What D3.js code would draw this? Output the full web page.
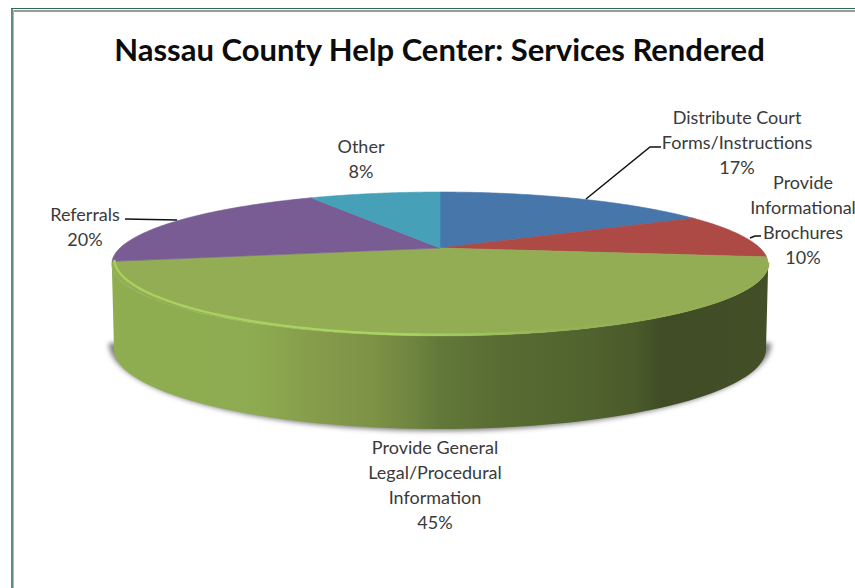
<!DOCTYPE html>
<html><head><meta charset="utf-8">
<script src="https://cdn.jsdelivr.net/npm/d3@7"></script>
<style>html,body{margin:0;padding:0;background:#fff;overflow:hidden}svg{display:block}text{font-family:Lato,"Open Sans",sans-serif}</style>
</head><body>
<script>
const categories = ["Distribute Court Forms/Instructions","Provide Informational Brochures","Provide General Legal/Procedural Information","Referrals","Other"];
const values = [17,10,45,20,8];
const colors = ["#4776ab","#ad4a46","#93ad54","#785c93","#46a0b8"];
const labelLines = [["Distribute Court","Forms/Instructions","17%"],["Provide","Informational","Brochures","10%"],["Provide General","Legal/Procedural","Information","45%"],["Referrals","20%"],["Other","8%"]];
const labelAnchors = [[737,118],[803,183],[435,448],[85,215],[361,147]];
const leaders = [[[586,199],[650,147],[661,147]],[[750,238],[755,236],[761,236]],null,[[125,219],[177,220]],null];
const W=855,H=588;
const svg=d3.select("body").append("svg").attr("width",W).attr("height",H);
const defs=svg.append("defs");
defs.append("filter").attr("id","sh").attr("x","-5%").attr("y","-10%").attr("width","110%").attr("height","120%").append("feGaussianBlur").attr("stdDeviation",2.5);
defs.append("filter").attr("id","soft").attr("x","-5%").attr("y","-10%").attr("width","110%").attr("height","120%").append("feGaussianBlur").attr("stdDeviation",0.6);
const wallStops=[[0,"#8fae50"],[0.22,"#8dab50"],[0.33,"#84994a"],[0.4,"#7d9245"],[0.46,"#6e843f"],[0.5,"#62783a"],[0.6,"#586b32"],[0.7,"#52652f"],[0.8,"#4a5a2b"],[0.84,"#3f4c25"],[1,"#434f27"]];
const wg=defs.append("linearGradient").attr("id","wall");
wg.selectAll("stop").data(wallStops).join("stop").attr("offset",d=>d[0]).attr("stop-color",d=>d[1]);
const rg=defs.append("linearGradient").attr("id","rim");
[[0,"#a8d05c"],[0.45,"#a8d562"],[0.68,"#93b254"],[1,"#93ad54"]].forEach(s=>rg.append("stop").attr("offset",s[0]).attr("stop-color",s[1]));

// border
svg.append("line").attr("x1",11).attr("x2",W).attr("y1",8.5).attr("y2",8.5).attr("stroke","#2f6b4f").attr("stroke-width",1);
svg.append("line").attr("x1",13).attr("x2",W).attr("y1",11).attr("y2",11).attr("stroke","#9a9a9a").attr("stroke-width",2);
svg.append("line").attr("x1",12).attr("x2",12).attr("y1",8).attr("y2",H).attr("stroke","#3f7058").attr("stroke-width",1.6);
svg.append("line").attr("x1",13.5).attr("x2",13.5).attr("y1",10).attr("y2",H).attr("stroke","#b5b5b5").attr("stroke-width",1);

svg.append("text").attr("x",439.5).attr("y",60.5).attr("text-anchor","middle").attr("font-size",31).attr("font-weight",700).attr("fill","#0c0c0c").text("Nassau County Help Center: Services Rendered");

// perspective projection of pie disc
const cx=440,cy=248,b=320,a=68.4,k=0.222;
const onTop=t=>{const u=Math.sin(t),v=-Math.cos(t),w=1-k*v;return [cx+b*u/w,cy+a*v/w];};
// visible front rim runs between the disc's left and right extremes
const tR=Math.PI-Math.acos(k), tL=Math.PI+Math.acos(k);
const botCy=349,botRy=80,botRx=326;
const onBot=t=>[cx+botRx*Math.sin(t),botCy-botRy*Math.cos(t)];
const samples=(t0,t1,n=80)=>d3.range(n+1).map(i=>t0+(t1-t0)*i/n);
const line=d3.line();
const pie=d3.pie().sort(null).value(d=>d)(values);
const wallPts=[...samples(tR,tL).map(onTop),...samples(Math.PI*1.5,Math.PI*0.5).map(onBot)];

const shadowPts=samples(Math.PI*0.5,Math.PI*1.5).map(onBot).map(p=>[cx+(p[0]-cx)*1.016,p[1]-6+(p[1]-botCy)*0.1]);
svg.append("path").attr("d",line(shadowPts)+"Z").attr("fill","#808080").attr("filter","url(#sh)");
svg.append("path").attr("d",line(wallPts)+"Z").attr("fill","url(#wall)");

svg.append("g").selectAll("path").data(pie).join("path")
 .attr("d",d=>line([[cx,cy],...samples(d.startAngle,d.endAngle).map(onTop)])+"Z")
 .attr("fill",(d,i)=>colors[i]).attr("stroke",(d,i)=>colors[i]).attr("stroke-width",0.6);

// bevel highlight: sits a little inside the disc edge, most inset at the left
svg.append("path").attr("d",line(samples(tL,tR).map(onTop).map(p=>[p[0]+2.5*Math.max(0,(cx-p[0])/320),p[1]-1.2-3*Math.pow(Math.max(0,(cx-p[0])/328),4)]))).attr("fill","none").attr("stroke","url(#rim)").attr("stroke-width",2.4).attr("filter","url(#soft)");

const lab=svg.append("g").attr("font-size",18).attr("fill","#3a3a3a").attr("text-anchor","middle");
labelLines.forEach((ls,i)=>ls.forEach((s,j)=>lab.append("text").attr("x",labelAnchors[i][0]).attr("y",labelAnchors[i][1]+6+j*25).text(s)));
svg.append("g").selectAll("path").data(leaders.filter(Boolean)).join("path").attr("d",line).attr("fill","none").attr("stroke","#111").attr("stroke-width",1.5);
</script>
</body></html>
